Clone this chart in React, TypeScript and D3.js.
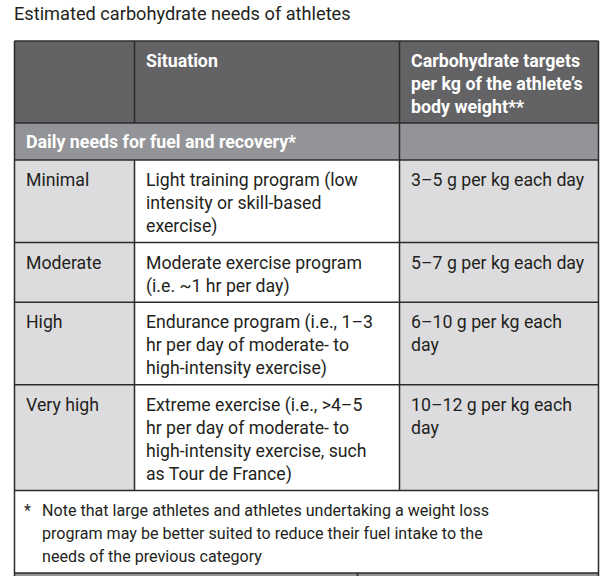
import React from "react";
import * as d3 from "d3";

const title = "Estimated carbohydrate needs of athletes";
const headers = [[""], ["Situation"], ["Carbohydrate targets", "per kg of the athlete’s", "body weight**"]];
const sectionLabel = "Daily needs for fuel and recovery*";
const levels = ["Minimal", "Moderate", "High", "Very high"];
const situations = [
  ["Light training program (low", "intensity or skill-based", "exercise)"],
  ["Moderate exercise program", "(i.e. ~1 hr per day)"],
  ["Endurance program (i.e., 1–3", "hr per day of moderate- to", "high-intensity exercise)"],
  ["Extreme exercise (i.e., >4–5", "hr per day of moderate- to", "high-intensity exercise, such", "as Tour de France)"],
];
const targets = [
  ["3–5 g per kg each day"],
  ["5–7 g per kg each day"],
  ["6–10 g per kg each", "day"],
  ["10–12 g per kg each", "day"],
];
const noteLines = [
  "Note that large athletes and athletes undertaking a weight loss",
  "program may be better suited to reduce their fuel intake to the",
  "needs of the previous category",
];

const W = 600;
const H = 576;
const FONT = "Roboto, 'Open Sans', sans-serif";
const LINE = 23;
const PAD = 13.6;
const TXT = "#231f20";
const DARK = "#636366";
const MID = "#939497";
const LIGHT = "#dcdcde";
const BORDER = "#2b2b2b";
const BODY = 17.7;
const HEAD = 17.8;

export default function App() {
  const left = 14.5;
  const right = 598.5;
  const colX = d3.scaleOrdinal<number, number>().domain([0, 1, 2, 3]).range([left, 134.5, 399.5, right]);
  const textX = [26, 146, 411];

  const dataRowLines = levels.map((_, i) => Math.max(1, situations[i].length, targets[i].length));
  const rowHeights = [82, 37, ...dataRowLines.map((n) => n * LINE + PAD), noteLines.length * LINE + PAD];
  const top = 41;
  const rowY: number[] = [top];
  rowHeights.forEach((h, i) => rowY.push(rowY[i] + h));
  const baseOff = 26;

  const cell = (x0: number, x1: number, y0: number, y1: number, fill: string, key: string) => (
    <rect key={key} x={x0} y={y0} width={x1 - x0} height={y1 - y0} fill={fill} />
  );

  const lines = (arr: string[], x: number, y0: number, key: string, props: any = {}) =>
    arr.map((s, j) => (
      <text key={key + j} x={x} y={y0 + baseOff + j * LINE} {...props}>{s}</text>
    ));

  const els: any[] = [];
  els.push(cell(left, right, rowY[0], rowY[1], DARK, "hdr"));
  headers.forEach((h, c) => els.push(...lines(h, textX[c], rowY[0], "h" + c, { fill: "#ffffff", fontWeight: 700, fontSize: HEAD })));
  els.push(cell(left, right, rowY[1], rowY[2], MID, "sec"));
  els.push(<text key="sect" x={textX[0]} y={rowY[1] + 25} fill="#ffffff" fontWeight={700} fontSize={HEAD}>{sectionLabel}</text>);
  levels.forEach((lv, i) => {
    const y0 = rowY[2 + i];
    const y1 = rowY[3 + i];
    els.push(cell(colX(0), colX(1), y0, y1, LIGHT, "c0" + i));
    els.push(cell(colX(1), colX(2), y0, y1, "#ffffff", "c1" + i));
    els.push(cell(colX(2), colX(3), y0, y1, LIGHT, "c2" + i));
    els.push(...lines([lv], textX[0], y0, "l" + i));
    els.push(...lines(situations[i], textX[1], y0, "s" + i));
    els.push(...lines(targets[i], textX[2], y0, "t" + i));
  });
  const ny = rowY[2 + levels.length];
  const nyEnd = rowY[3 + levels.length];
  els.push(cell(left, right, ny, nyEnd, "#ffffff", "note"));
  els.push(<text key="ast" x={24} y={ny + baseOff} fontSize={16.1}>*</text>);
  els.push(...lines(noteLines, 42, ny, "n", { fontSize: 16.1 }));
  els.push(cell(left, right, nyEnd, H + 2, MID, "bot"));

  const borders: any[] = [];
  rowY.forEach((y, i) => borders.push(<line key={"hl" + i} x1={left} x2={right} y1={y} y2={y} />));
  borders.push(<line key="vl0" x1={left} x2={left} y1={top} y2={H + 2} />);
  borders.push(<line key="vr" x1={right} x2={right} y1={top} y2={H + 2} />);
  borders.push(<line key="v1a" x1={colX(1)} x2={colX(1)} y1={rowY[0]} y2={rowY[1]} />);
  borders.push(<line key="v1b" x1={colX(1)} x2={colX(1)} y1={rowY[2]} y2={ny} />);
  borders.push(<line key="v2" x1={colX(2)} x2={colX(2)} y1={rowY[0]} y2={ny} />);
  borders.push(<line key="vb" x1={357.5} x2={357.5} y1={nyEnd} y2={H + 2} />);

  return (
    <svg width={W} height={H} style={{ position: "absolute", left: 0, top: 0, background: "#fff" }}>
      <text x={14} y={20} fontSize={18.2} fill={TXT} fontFamily={FONT}>{title}</text>
      <g fontFamily={FONT} fontSize={BODY} fill={TXT}>{els}</g>
      <g stroke={BORDER} strokeWidth={1.5}>{borders}</g>
    </svg>
  );
}
